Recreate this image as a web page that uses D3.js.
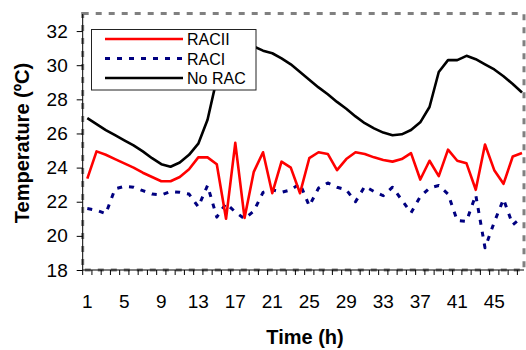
<!DOCTYPE html>
<html>
<head>
<meta charset="utf-8">
<script src="https://cdn.jsdelivr.net/npm/d3@7/dist/d3.min.js"></script>
<style>
  body { margin: 0; background: #fff; }
  svg { display: block; font-family: "Liberation Sans", Arial, sans-serif; }
</style>
</head>
<body>
<div id="chart"></div>
<script>
// hourly categories
const hours = [1, 2, 3, 4, 5, 6, 7, 8, 9, 10, 11, 12, 13, 14, 15, 16, 17, 18, 19, 20, 21, 22, 23, 24,
  25, 26, 27, 28, 29, 30, 31, 32, 33, 34, 35, 36, 37, 38, 39, 40, 41, 42, 43, 44, 45, 46, 47, 48];

const racII = [23.35, 24.95, 24.75, 24.5, 24.25, 24.0, 23.7, 23.45, 23.2, 23.2, 23.45, 23.9,
  24.6, 24.6, 24.2, 21.0, 25.45, 21.05, 23.75, 24.9, 22.5, 24.35, 24.0, 22.5,
  24.55, 24.9, 24.8, 23.85, 24.5, 24.9, 24.8, 24.6, 24.45, 24.35, 24.5, 24.85,
  23.3, 24.4, 23.5, 25.05, 24.4, 24.25, 22.7, 25.35, 23.85, 23.05, 24.65, 24.85];

const racI = [21.6, 21.5, 21.3, 22.75, 22.9, 22.85, 22.65, 22.45, 22.4, 22.6, 22.55, 22.45,
  21.7, 22.95, 21.1, 21.9, 21.4, 21.0, 21.45, 22.55, 22.7, 22.55, 22.7, 23.05,
  21.75, 22.8, 23.1, 22.85, 22.7, 22.0, 22.9, 22.6, 22.35, 22.85, 22.1, 21.35,
  22.3, 22.8, 22.95, 22.45, 20.9, 20.85, 22.4, 19.3, 20.8, 22.15, 20.65, 21.1];

const noRac = [26.9, 26.55, 26.2, 25.9, 25.6, 25.3, 24.95, 24.55, 24.2, 24.05, 24.3, 24.75,
  25.4, 26.8, 29.2, 31.0, 31.5, 31.4, 31.1, 30.85, 30.7, 30.4, 30.05, 29.6,
  29.15, 28.7, 28.3, 27.85, 27.45, 27.0, 26.6, 26.3, 26.05, 25.9, 25.95, 26.2,
  26.65, 27.55, 29.6, 30.3, 30.3, 30.55, 30.35, 30.05, 29.75, 29.35, 28.9, 28.4];

const xTickLabels = [1, 5, 9, 13, 17, 21, 25, 29, 33, 37, 41, 45];
const yTicks = [18, 20, 22, 24, 26, 28, 30, 32];

const seriesNames = ["RACII", "RACI", "No RAC"];

const series = [
  {name: seriesNames[0], values: racII, color: "#ff0000", dash: null, width: 2.6},
  {name: seriesNames[1], values: racI, color: "#000080", dash: "5,7", width: 3},
  {name: seriesNames[2], values: noRac, color: "#000000", dash: null, width: 2.6}
];

const W = 526, H = 350;
const plot = {left: 82.7, right: 524, top: 14, bottom: 270};

const svg = d3.select("#chart")
  .append("svg")
  .attr("width", W)
  .attr("height", H);

// x: category centres
const x = d3.scalePoint()
  .domain(hours)
  .range([87.3, 522]);
const step = x.step();

const y = d3.scaleLinear()
  .domain([18, 33])
  .range([plot.bottom, plot.top]);

svg.append("defs").append("clipPath")
  .attr("id", "clip")
  .append("rect")
  .attr("x", plot.left)
  .attr("y", plot.top - 2)
  .attr("width", plot.right - plot.left)
  .attr("height", plot.bottom - plot.top + 2);

// dashed plot area border
svg.append("rect")
  .attr("x", plot.left)
  .attr("y", plot.top - 0.5)
  .attr("width", plot.right - plot.left)
  .attr("height", plot.bottom - plot.top + 0.5)
  .attr("fill", "none")
  .attr("stroke", "#808080")
  .attr("stroke-width", 3)
  .attr("stroke-dasharray", "6,7");

// y axis
const yAxis = svg.append("g")
  .attr("transform", `translate(${plot.left},0)`)
  .call(d3.axisLeft(y).tickValues(yTicks).tickSize(6).tickPadding(9).tickFormat(d3.format("d")));
yAxis.select(".domain")
  .attr("d", `M0,${plot.top}V${plot.bottom}`)
  .attr("stroke", "#000");
yAxis.selectAll("text")
  .style("font-size", "19px")
  .attr("fill", "#000");

// x axis: line, ticks between categories, labels every 4 h
const xAxis = svg.append("g");
xAxis.append("line")
  .attr("x1", plot.left).attr("x2", plot.right)
  .attr("y1", plot.bottom).attr("y2", plot.bottom)
  .attr("stroke", "#000");
xAxis.selectAll(".xtick")
  .data(hours)
  .enter().append("line")
  .attr("class", "xtick")
  .attr("x1", d => x(d) - step / 2)
  .attr("x2", d => x(d) - step / 2)
  .attr("y1", plot.bottom)
  .attr("y2", plot.bottom + 5)
  .attr("stroke", "#000");
xAxis.selectAll(".xlabel")
  .data(xTickLabels)
  .enter().append("text")
  .attr("class", "xlabel")
  .attr("x", d => x(d))
  .attr("y", 308)
  .attr("text-anchor", "middle")
  .style("font-size", "19px")
  .text(d => d);

// axis titles
svg.append("text")
  .attr("x", 305)
  .attr("y", 344)
  .attr("text-anchor", "middle")
  .style("font-size", "20px")
  .style("font-weight", "bold")
  .text("Time (h)");

svg.append("text")
  .attr("transform", "translate(29,143) rotate(-90)")
  .attr("text-anchor", "middle")
  .style("font-size", "20px")
  .style("font-weight", "bold")
  .text("Temperature (ºC)");

// lines
const line = d3.line()
  .x((d, i) => x(hours[i]))
  .y(d => y(d));

const lines = svg.append("g").attr("clip-path", "url(#clip)");
series.slice().reverse().forEach(s => {
  lines.append("path")
    .datum(s.values)
    .attr("d", line)
    .attr("fill", "none")
    .attr("stroke", s.color)
    .attr("stroke-width", s.width)
    .attr("stroke-linejoin", "round")
    .attr("stroke-dasharray", s.dash);
});

// legend
const legend = svg.append("g");
legend.append("rect")
  .attr("x", 91.5)
  .attr("y", 29.5)
  .attr("width", 164.5)
  .attr("height", 60.5)
  .attr("fill", "#fff")
  .attr("stroke", "#222")
  .attr("stroke-width", 1);

const item = legend.selectAll(".item")
  .data(series)
  .enter().append("g")
  .attr("class", "item")
  .attr("transform", (d, i) => `translate(0,${39 + i * 19.5})`);

item.append("line")
  .attr("x1", 105).attr("x2", 183)
  .attr("y1", 0).attr("y2", 0)
  .attr("stroke", d => d.color)
  .attr("stroke-width", d => d.width)
  .attr("stroke-dasharray", d => d.dash);

item.append("text")
  .attr("x", 187)
  .attr("y", 6)
  .style("font-size", "16px")
  .text(d => d.name);
</script>
</body>
</html>
